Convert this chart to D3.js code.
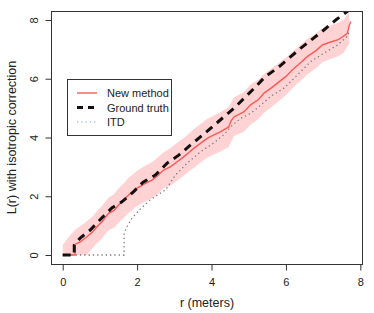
<!DOCTYPE html>
<html>
<head>
<meta charset="utf-8">
<script src="https://cdn.jsdelivr.net/npm/d3@7"></script>
<style>
  body { margin: 0; background: #fff; }
  svg { display: block; font-family: "Liberation Sans", Arial, sans-serif; }
</style>
</head>
<body>
<svg id="chart" width="374" height="313"></svg>
<script>
// values
var rNew = [0, 0.33, 0.33, 0.47, 0.65, 0.8, 0.92, 1.05, 1.23, 1.38, 1.5, 1.65, 1.77, 1.99, 2.22, 2.4, 2.55, 2.71, 2.89, 3.05,
            3.25, 3.4, 3.52, 3.7, 3.88, 4.05, 4.24, 4.46, 4.52, 4.6, 4.87, 5.05, 5.27, 5.41, 5.6, 5.77, 6.0, 6.17, 6.4, 6.58,
            6.8, 6.98, 7.2, 7.39, 7.55, 7.65, 7.7, 7.74];
var lNew = [0, 0, 0.36, 0.45, 0.62, 0.78, 0.96, 1.12, 1.42, 1.52, 1.7, 1.88, 2.04, 2.27, 2.44, 2.55, 2.7, 2.89, 3.0, 3.15,
            3.34, 3.5, 3.63, 3.8, 3.97, 4.08, 4.19, 4.36, 4.55, 4.7, 4.87, 5.11, 5.3, 5.51, 5.68, 5.85, 6.08, 6.3, 6.55, 6.76,
            6.95, 7.15, 7.25, 7.32, 7.45, 7.55, 7.8, 7.95];

var rBand = [0, 0.15, 0.33, 0.47, 0.65, 0.8, 0.92, 1.05, 1.23, 1.38, 1.5, 1.65, 1.77, 1.99, 2.22, 2.4, 2.55, 2.71, 2.89, 3.05,
             3.25, 3.4, 3.52, 3.7, 3.88, 4.05, 4.24, 4.46, 4.6, 4.87, 5.05, 5.27, 5.41, 5.6, 5.77, 6.0, 6.17, 6.4, 6.58, 6.8,
             6.98, 7.2, 7.39, 7.55, 7.7];
var bandHigh = [0.34, 0.6, 0.85, 0.98, 1.15, 1.3, 1.5, 1.66, 1.95, 2.08, 2.27, 2.45, 2.63, 2.86, 3.04, 3.16, 3.32, 3.5, 3.63, 3.8,
                3.98, 4.14, 4.28, 4.45, 4.63, 4.74, 4.86, 5.04, 5.36, 5.55, 5.8, 5.98, 6.16, 6.34, 6.5, 6.72, 6.92, 7.16, 7.36, 7.54,
                7.72, 7.82, 7.9, 8.0, 8.3];
var bandLow = [0, 0, 0, 0, 0, 0.24, 0.4, 0.55, 0.84, 0.93, 1.1, 1.28, 1.43, 1.66, 1.82, 1.93, 2.07, 2.27, 2.36, 2.5,
               2.7, 2.85, 2.96, 3.14, 3.31, 3.41, 3.52, 3.68, 4.04, 4.2, 4.43, 4.64, 4.84, 5.02, 5.2, 5.44, 5.68, 5.93, 6.15, 6.35,
               6.56, 6.67, 6.76, 6.88, 7.2];

var rGT = [0, 0.31, 0.31, 0.47, 0.74, 1.05, 1.32, 1.59, 1.9, 2.16, 2.49, 2.8, 3.12, 3.43, 3.7, 4.02, 4.33, 4.6, 4.91, 5.18,
           5.45, 5.77, 6.08, 6.4, 6.71, 7.02, 7.34, 7.65, 7.72];
var lGT = [0, 0, 0.34, 0.58, 0.85, 1.26, 1.6, 1.81, 2.15, 2.48, 2.72, 3.12, 3.4, 3.74, 4.02, 4.36, 4.7, 4.99, 5.38, 5.72,
           6.08, 6.36, 6.7, 7.04, 7.35, 7.66, 8.0, 8.29, 8.38];

var rITD = [0, 1.65, 1.65, 1.72, 1.86, 2.08, 2.35, 2.62, 2.76, 3.03, 3.34, 3.7, 4.1, 4.37, 4.51, 4.78, 5.05, 5.23, 5.59, 5.95,
            6.31, 6.67, 7.02, 7.39, 7.65, 7.7];
var lITD = [0, 0, 0.75, 0.95, 1.25, 1.56, 1.87, 2.1, 2.21, 2.72, 3.12, 3.51, 3.85, 4.14, 4.36, 4.65, 4.82, 5.0, 5.4, 5.68,
            6.13, 6.59, 6.87, 7.15, 7.44, 7.6];

var xTicks = [0, 2, 4, 6, 8];
var yTicks = [0, 2, 4, 6, 8];
var legendLabels = ['New method', 'Ground truth', 'ITD'];

var svg = d3.select('#chart');

var box = {left: 51, right: 362, top: 11, bottom: 264};
var x = d3.scaleLinear().domain([-0.315, 8.045]).range([box.left, box.right]);
var y = d3.scaleLinear().domain([-0.306, 8.306]).range([box.bottom, box.top]);

svg.append('defs').append('clipPath')
    .attr('id', 'plotclip')
  .append('rect')
    .attr('x', box.left).attr('y', box.top)
    .attr('width', box.right - box.left).attr('height', box.bottom - box.top);

var plot = svg.append('g').attr('clip-path', 'url(#plotclip)');

// confidence band
var bandData = rBand.map(function(r, i) { return [r, bandLow[i], bandHigh[i]]; });
plot.append('path')
    .datum(bandData)
    .attr('fill', '#ffd3d3')
    .attr('stroke', 'none')
    .attr('d', d3.area()
        .x(function(d) { return x(d[0]); })
        .y0(function(d) { return y(d[1]); })
        .y1(function(d) { return y(d[2]); }));

var line = d3.line()
    .x(function(d) { return x(d[0]); })
    .y(function(d) { return y(d[1]); });

function zip(a, b) { return a.map(function(v, i) { return [v, b[i]]; }); }

// ITD
plot.append('path')
    .datum(zip(rITD, lITD))
    .attr('fill', 'none')
    .attr('stroke', '#7a7a80')
    .attr('stroke-width', 1.3)
    .attr('stroke-dasharray', '1.3,3')
    .attr('d', line);

// new method
plot.append('path')
    .datum(zip(rNew, lNew))
    .attr('fill', 'none')
    .attr('stroke', '#ff5858')
    .attr('stroke-width', 1.4)
    .attr('d', line);

// ground truth
plot.append('path')
    .datum(zip(rGT, lGT))
    .attr('fill', 'none')
    .attr('stroke', '#141010')
    .attr('stroke-width', 3)
    .attr('stroke-dasharray', '8,6')
    .attr('d', line);

// box
svg.append('rect')
    .attr('x', box.left + 0.5).attr('y', box.top + 0.5)
    .attr('width', box.right - box.left).attr('height', box.bottom - box.top)
    .attr('fill', 'none')
    .attr('stroke', '#333')
    .attr('stroke-width', 1);

// axes
var xAxis = svg.append('g')
    .attr('transform', 'translate(0,' + (box.bottom + 0.5) + ')')
    .call(d3.axisBottom(x).tickValues(xTicks).tickSize(6).tickPadding(8).tickSizeOuter(0));
xAxis.select('.domain').remove();

var yAxis = svg.append('g')
    .attr('transform', 'translate(' + (box.left + 0.5) + ',0)')
    .call(d3.axisLeft(y).tickValues(yTicks).tickSize(6).tickSizeOuter(0));
yAxis.select('.domain').remove();
// R style: y tick labels run parallel to the axis
yAxis.selectAll('text')
    .attr('x', null).attr('dy', null).attr('y', 0)
    .attr('text-anchor', 'middle')
    .attr('transform', 'translate(-14,0) rotate(-90)');

svg.selectAll('.tick line').attr('stroke', '#333');
svg.selectAll('.tick text')
    .attr('fill', '#222')
    .style('font-size', '11px')
    .style('font-family', '"Liberation Sans", Arial, sans-serif');

// axis titles
svg.append('text')
    .attr('x', (box.left + box.right) / 2 + 0.5)
    .attr('y', 307)
    .attr('text-anchor', 'middle')
    .style('font-size', '12.5px')
    .attr('fill', '#222')
    .text('r (meters)');

svg.append('text')
    .attr('transform', 'translate(16,' + ((box.top + box.bottom) / 2) + ') rotate(-90)')
    .attr('text-anchor', 'middle')
    .style('font-size', '12.5px')
    .attr('fill', '#222')
    .text('L(r) with isotropic correction');

// legend
var legend = svg.append('g');
legend.append('rect')
    .attr('x', 67.5).attr('y', 79.5)
    .attr('width', 104).attr('height', 56)
    .attr('fill', '#fff')
    .attr('stroke', '#333');

var legendStyles = [
  {stroke: '#ff5858', width: 1.4, dash: null},
  {stroke: '#141010', width: 3, dash: '6,5'},
  {stroke: '#a9c9e6', width: 1.3, dash: '1.3,3'}
];
legendLabels.forEach(function(label, i) {
  var yy = 93 + i * 14.5;
  legend.append('line')
      .attr('x1', 77).attr('x2', 97)
      .attr('y1', yy).attr('y2', yy)
      .attr('stroke', legendStyles[i].stroke)
      .attr('stroke-width', legendStyles[i].width)
      .attr('stroke-dasharray', legendStyles[i].dash);
  legend.append('text')
      .attr('x', 107).attr('y', yy + 4)
      .style('font-size', '11px')
      .attr('fill', '#222')
      .text(label);
});
</script>
</body>
</html>
